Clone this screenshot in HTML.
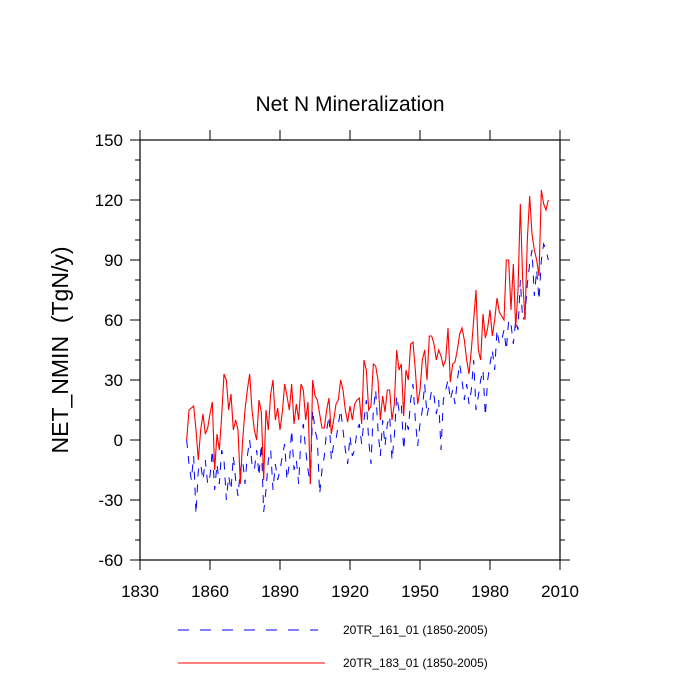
<!DOCTYPE html>
<html><head><meta charset="utf-8"><style>
body{margin:0;background:#fff}
svg{display:block;font-family:"Liberation Sans",sans-serif}
</style></head><body>
<svg id="chart" width="700" height="700">
<text x="350" y="111" font-size="21" text-anchor="middle">Net N Mineralization</text>
<text transform="translate(68,350) rotate(-90)" font-size="23" text-anchor="middle" style="white-space:pre" xml:space="preserve">NET_NMIN  (TgN/y)</text>
<g id="axes"></g>
<g id="series"></g>
<g>
<line x1="178" y1="630" x2="318" y2="630" stroke="#00f" stroke-width="1" stroke-dasharray="11,11"/>
<text x="343" y="634" font-size="12">20TR_161_01 (1850-2005)</text>
<line x1="178" y1="663" x2="325" y2="663" stroke="#f00" stroke-width="1"/>
<text x="343" y="667" font-size="12">20TR_183_01 (1850-2005)</text>
</g>
</svg>
<script>
const startYear = 1850;
const red183 = [0,15,16,17,5,-10,5,13,3,6,
13,19,-15,3,-5,12,33,30,15,23,
5,10,5,-22,0,15,25,33,15,5,
0,20,14,-20,15,5,23,30,10,16,
5,14,28,22,15,28,8,18,10,28,
25,10,19,-22,30,22,20,13,6,6,
15,21,3,10,18,20,30,25,15,9,
17,10,18,20,21,8,40,35,15,17,
38,37,30,10,22,14,25,25,10,18,
45,35,38,12,35,30,48,49,35,18,
25,40,45,30,52,52,48,40,45,42,
37,40,56,29,38,39,45,53,56,50,
40,33,45,60,75,45,40,63,51,56,
65,52,60,71,64,62,60,90,90,65,
88,56,75,118,80,60,100,122,103,95,
90,82,125,118,115,120];
const blue161 = [0,-12,-20,-8,-37,-15,-12,-20,-10,-22,
-18,-5,-25,-12,-22,-5,-10,-30,-18,-25,
-8,-20,-28,-15,-10,-22,-8,0,-12,-15,
-5,-18,-2,-36,-25,-10,-5,-25,-12,-20,
-15,-8,-2,-20,-12,5,-15,-10,-22,2,
8,-5,-15,-22,15,5,0,-27,-15,-8,
5,12,-10,-2,0,8,15,5,-5,-12,
2,-8,-5,5,8,-2,10,20,0,-12,
15,25,5,-8,10,-3,8,12,-10,2,
22,15,18,-5,10,5,20,28,10,-3,
8,15,28,12,18,25,22,13,20,-5,
20,25,30,20,25,18,30,38,30,20,
28,18,25,40,15,22,30,35,12,30,
38,45,35,55,48,50,55,45,60,58,
48,60,55,80,60,62,78,88,95,72,
85,70,90,98,95,90];
const xTicks = [1830,1860,1890,1920,1950,1980,2010];
const yTicks = [-60,-30,0,30,60,90,120,150];

const L=140,R=560,T=140,B=560;
const X = v => L + (v-1830)/(2010-1830)*(R-L);
const Y = v => B - (v+60)/(150+60)*(B-T);
const NS="http://www.w3.org/2000/svg";
const axes=document.getElementById('axes');
function mk(tag,attrs,parent){const e=document.createElementNS(NS,tag);for(const k in attrs)e.setAttribute(k,attrs[k]);parent.appendChild(e);return e;}
const frame=mk('rect',{x:L,y:T,width:R-L,height:B-T,fill:'none',stroke:'#000','stroke-width':1.2},axes);


xTicks.forEach(t=>{
  const x=X(t);
  const a=mk('line',{x1:x,y1:B,x2:x,y2:B+10,stroke:'#000','stroke-width':1},axes);
  
  
  mk('line',{x1:x,y1:T,x2:x,y2:T-10,stroke:'#000','stroke-width':1},axes);
  const tx=mk('text',{x:x,y:B+37,'font-size':17,'text-anchor':'middle'},axes);
  tx.textContent=t;
  
  
});
for(let v=-60;v<=150;v+=10){
  const y=Y(v), major=(v%30===0), len=major?10:5;
  mk('line',{x1:L,y1:y,x2:L-len,y2:y,stroke:'#000','stroke-width':1},axes);
  mk('line',{x1:R,y1:y,x2:R+len,y2:y,stroke:'#000','stroke-width':1},axes);
}
yTicks.forEach(t=>{
  const tx=mk('text',{x:L-17,y:Y(t)+6,'font-size':17,'text-anchor':'end'},axes);
  tx.textContent=t;
  
  
});
const ser=document.getElementById('series');
function path(arr){return arr.map((v,i)=>(i?'L':'M')+X(startYear+i).toFixed(2)+','+Y(v).toFixed(2)).join('');}
const pb=mk('path',{d:path(blue161),fill:'none',stroke:'#00f','stroke-width':1,'stroke-dasharray':'8,8'},ser);


const pr=mk('path',{d:path(red183),fill:'none',stroke:'#f00','stroke-width':1.1},ser);


</script>
</body></html>
